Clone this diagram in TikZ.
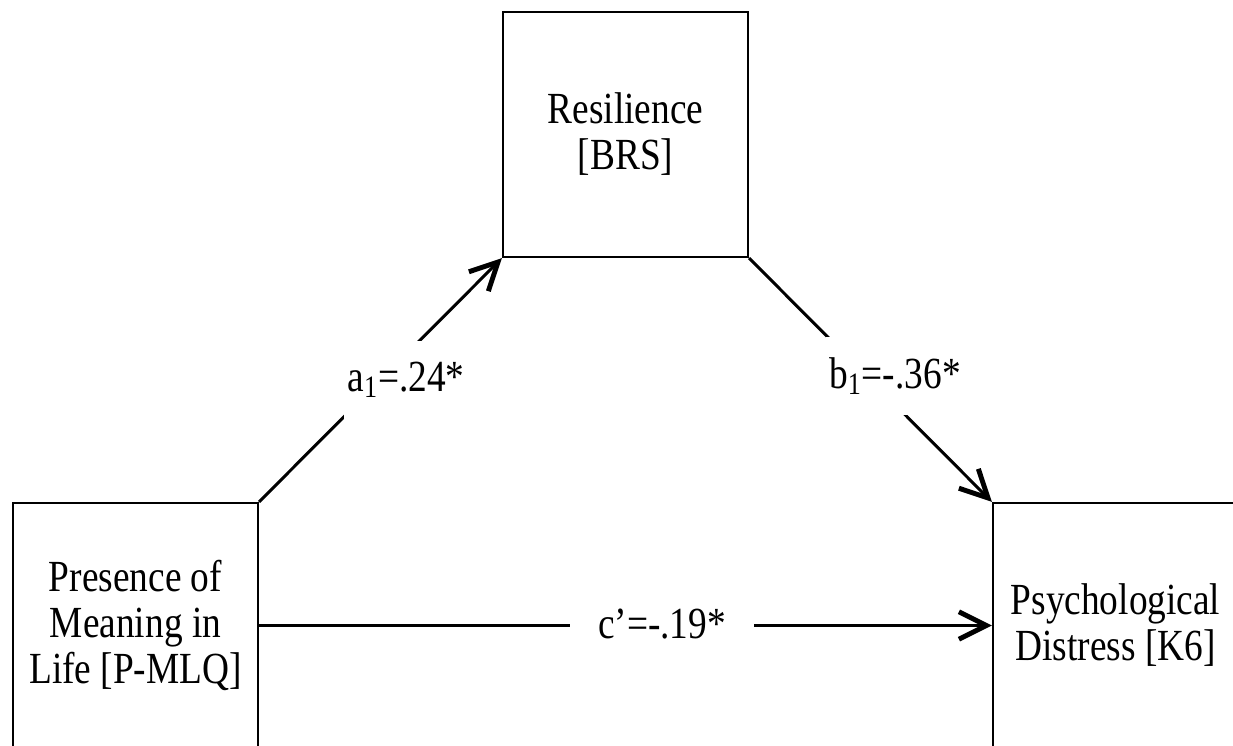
\documentclass[tikz,border=0pt]{standalone}
\usepackage{fontspec}
\setmainfont{Liberation Serif}
\newfontfamily\figfont[FakeStretch=0.84]{Liberation Serif}
\usetikzlibrary{arrows.meta}

\tikzset{
  box/.style={draw,line width=1.3pt,minimum width=4.9cm,minimum height=4.9cm,
    align=center,inner sep=0pt,font=\figfont\fontsize{25.3}{26.2}\selectfont},
  link/.style={line width=1.7pt,-{Straight Barb[length=0.55cm,width=0.55cm,line width=2.8pt]}},
  coef/.style={fill=white,inner xsep=2pt,inner ysep=0pt,minimum height=1.56cm,
    font=\figfont\fontsize{25.3}{26.2}\selectfont}
}

\begin{document}
\begin{tikzpicture}[x=0.02cm,y=-0.02cm]
  \clip (0,0) rectangle (1233,746);
  % the three variables
  \node[box] (res) at (625.5,134.5) {Resilience\\{}[BRS]};
  \node[box] (pml) at (135.5,625.5) {Presence of\\Meaning in\\Life [P-MLQ]};
  \node[box] (psy) at (1115.5,625.5) {Psychological\\Distress [K6]};
  % paths
  \draw[link] (pml.north east) -- (res.south west);
  \draw[link] (res.south east) -- (psy.north west);
  \draw[link] (pml.east) -- (psy.west);
  % coefficients
  \node[coef] (ca) at (406,380) {a\textsubscript{1}=.24*};
  \node[coef] (cb) at (895,376) {b\textsubscript{1}=-.36*};
  \node[coef,inner xsep=16pt] (cc) at (662,624) {c’=-.19*};
\end{tikzpicture}
\end{document}
